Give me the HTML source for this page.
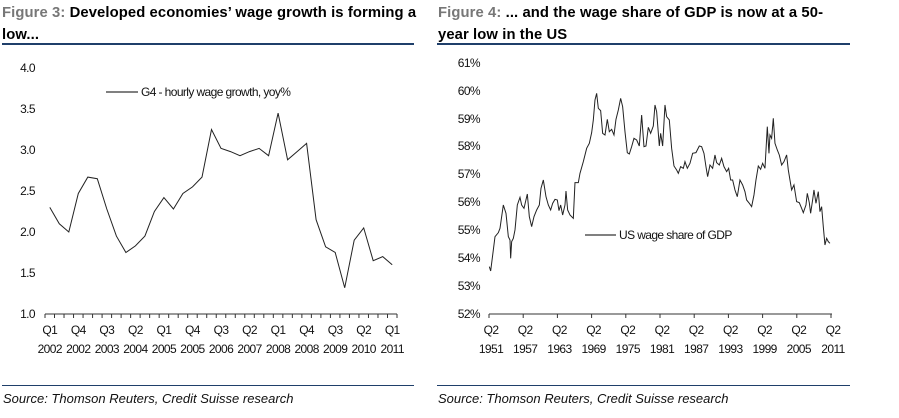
<!DOCTYPE html>
<html><head><meta charset="utf-8"><style>
body{margin:0;background:#fff;width:899px;height:418px;overflow:hidden;font-family:"Liberation Sans",Arial,sans-serif}
.t{position:absolute;font-size:14.8px;font-weight:bold;color:#000;line-height:22px;letter-spacing:0.1px}
.t span{color:#777}
.rule{position:absolute;height:2px;background:#1f3f6a}
.srule{position:absolute;height:1px;background:#1f3f6a}
.src{position:absolute;font-size:13px;font-style:italic;color:#111}
</style></head><body>
<div class="t" style="left:2px;top:2px;width:430px">
<span>Figure 3:</span> Developed economies’ wage growth is forming a<br>low...</div>
<div class="rule" style="left:2px;top:43px;width:412px"></div>
<div class="t" style="left:438px;top:2px;width:440px">
<span>Figure 4:</span> ... and the wage share of GDP is now at a 50-<br>year low in the US</div>
<div class="rule" style="left:437px;top:43px;width:413px"></div>
<div class="srule" style="left:2px;top:385px;width:412px"></div>
<div class="srule" style="left:437px;top:385px;width:413px"></div>
<div class="src" style="left:3px;top:391px">Source: Thomson Reuters, Credit Suisse research</div>
<div class="src" style="left:438px;top:391px">Source: Thomson Reuters, Credit Suisse research</div>
<svg width="899" height="418" style="position:absolute;left:0;top:0" font-family="Liberation Sans, Arial, sans-serif" font-size="12" letter-spacing="-0.6">
<g fill="#111" text-anchor="end">
<text x="35" y="72">4.0</text><text x="35" y="113">3.5</text><text x="35" y="154">3.0</text><text x="35" y="195">2.5</text><text x="35" y="236">2.0</text><text x="35" y="277">1.5</text><text x="35" y="318">1.0</text>
</g>
<line x1="45" y1="314" x2="397" y2="314" stroke="#333"/>
<g id="lt" stroke="#333"></g>
<g fill="#111" text-anchor="middle" id="lx"></g>
<line x1="106" y1="92" x2="138" y2="92" stroke="#000"/>
<text x="141" y="96" fill="#111">G4 - hourly wage growth, yoy%</text>
<polyline id="lp" fill="none" stroke="#222" stroke-width="1"/>
<g fill="#111" text-anchor="end">
<text x="480" y="67">61%</text><text x="480" y="95">60%</text><text x="480" y="123">59%</text><text x="480" y="150">58%</text><text x="480" y="178">57%</text><text x="480" y="206">56%</text><text x="480" y="234">55%</text><text x="480" y="262">54%</text><text x="480" y="290">53%</text><text x="480" y="318">52%</text>
</g>
<line x1="489" y1="314" x2="832" y2="314" stroke="#333"/>
<g id="rt" stroke="#333"></g>
<g fill="#111" text-anchor="middle" id="rx"></g>
<line x1="585" y1="235" x2="616" y2="235" stroke="#000"/>
<text x="619" y="239" fill="#111">US wage share of GDP</text>
<g transform="translate(440,40) scale(0.3333)">
<polyline fill="none" stroke="#222" stroke-width="3" points="148,680 152,693 160,630 165,590 175,578 180,565 190,495 198,520 205,590 210,600 212,655 215,605 220,595 225,570 232,495 240,472 245,495 252,505 262,462 268,530 275,560 282,530 290,510 298,495 303,445 310,420 318,470 325,495 332,510 338,490 345,478 352,480 357,512 362,495 368,525 375,495 378,453 383,510 390,525 400,535 405,428 415,428 420,400 430,365 440,325 448,310 455,278 460,240 465,180 470,160 475,205 482,212 488,280 495,285 502,238 508,275 515,268 522,285 528,238 535,210 542,175 548,200 555,275 562,338 568,342 575,320 582,295 590,300 598,318 605,225 612,320 618,318 625,262 632,280 640,258 645,195 650,215 658,318 662,280 668,318 675,195 680,230 688,240 695,325 702,378 710,390 715,400 722,380 730,385 735,365 742,385 750,370 758,340 768,338 778,318 785,320 792,340 798,380 803,410 810,375 818,385 825,345 830,368 838,375 845,355 852,380 860,395 866,385 872,420 878,420 885,450 892,470 900,420 908,435 915,455 920,480 928,490 935,500 942,465 948,420 955,378 962,388 968,370 975,385 982,260 987,340 990,285 995,295 1000,235 1005,310 1012,330 1018,345 1025,375 1032,365 1040,345 1045,390 1050,420 1055,450 1062,435 1070,485 1078,488 1085,505 1090,518 1098,495 1102,460 1108,488 1112,520 1118,480 1122,450 1128,490 1135,455 1140,515 1145,500 1150,560 1155,615 1160,595 1165,605 1170,610"/>
</g>
</svg>
<script>
var ns="http://www.w3.org/2000/svg";
function el(p,n,a,t){var e=document.createElementNS(ns,n);for(var k in a)e.setAttribute(k,a[k]);if(t)e.textContent=t;document.getElementById(p).appendChild(e);}
var d=[2.3,2.1,2.0,2.47,2.67,2.65,2.28,1.95,1.75,1.83,1.95,2.25,2.42,2.28,2.47,2.55,2.67,3.25,3.02,2.98,2.93,2.98,3.02,2.93,3.45,2.88,2.98,3.08,2.15,1.82,1.75,1.32,1.9,2.05,1.65,1.7,1.6];
var w=352/37,pts=[];
for(var i=0;i<=37;i++){var x=45+w*i;el("lt","line",{x1:x,y1:314,x2:x,y2:318});}
for(var i=0;i<37;i++){var x=45+w*(i+0.5);pts.push(x.toFixed(1)+","+(314-(d[i]-1)*82).toFixed(1));}
document.getElementById("lp").setAttribute("points",pts.join(" "));
var lq=["Q1","Q4","Q3","Q2","Q1","Q4","Q3","Q2","Q1","Q4","Q3","Q2","Q1"],ly=[2002,2002,2003,2004,2005,2005,2006,2007,2008,2008,2009,2010,2011];
for(var j=0;j<13;j++){var x=45+w*(3*j+0.5);el("lx","text",{x:x,y:334},lq[j]);el("lx","text",{x:x,y:353},ly[j]);}
var rs=(831-489)/10;
for(var j=0;j<=10;j++){var x=489+rs*j;el("rt","line",{x1:x,y1:314,x2:x,y2:318});el("rx","text",{x:x+2,y:334},"Q2");el("rx","text",{x:x+2,y:353},1951+6*j);}
</script>
</body></html>
